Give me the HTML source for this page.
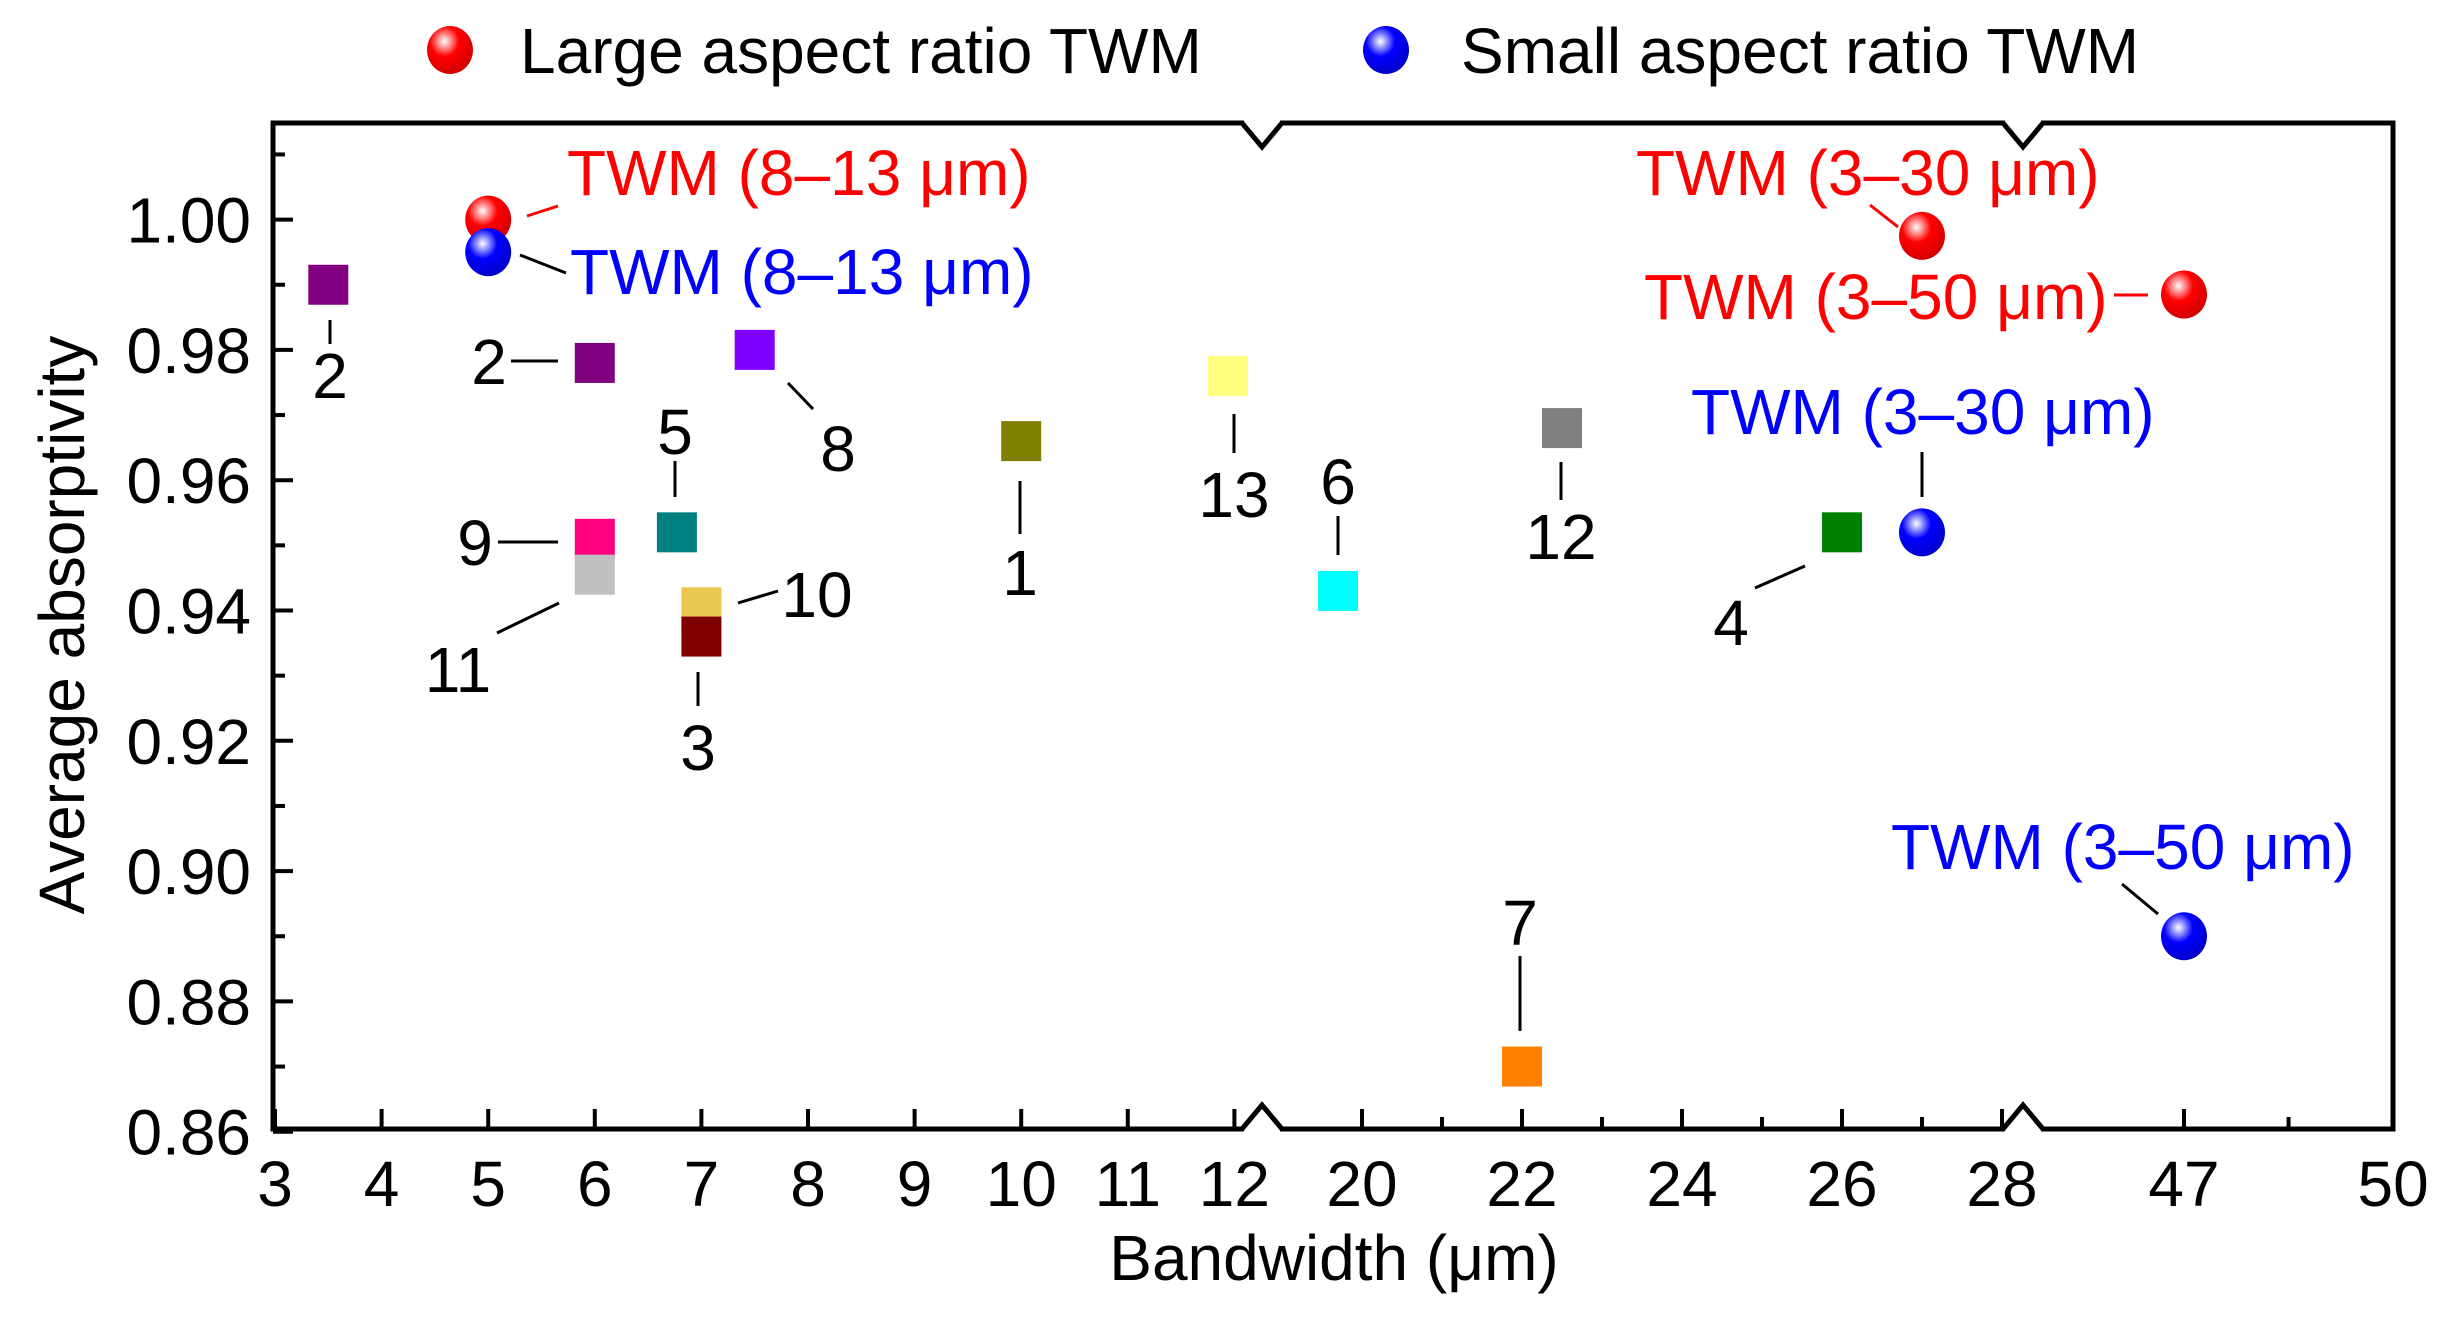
<!DOCTYPE html>
<html><head><meta charset="utf-8"><style>
html,body{margin:0;padding:0;background:#fff;}
svg text{font-family:"Liberation Sans",Arial,sans-serif;}
</style></head><body>
<svg id="chart" width="2449" height="1322" viewBox="0 0 2449 1322" xmlns="http://www.w3.org/2000/svg">
<defs>
<radialGradient id="gRed" cx="0.38" cy="0.32" r="0.7">
<stop offset="0" stop-color="#fff"/><stop offset="0.18" stop-color="#ff9a9a"/><stop offset="0.45" stop-color="#ff0000"/><stop offset="1" stop-color="#d00000"/></radialGradient>
<radialGradient id="gBlue" cx="0.38" cy="0.32" r="0.7">
<stop offset="0" stop-color="#fff"/><stop offset="0.18" stop-color="#9a9aff"/><stop offset="0.45" stop-color="#0000ff"/><stop offset="1" stop-color="#0000c8"/></radialGradient>
</defs>
<g id="plot"></g>
</svg>
<script>
// ---- data ----
const refLabels = ["2","2","8","5","9","11","10","3","1","13","6","12","7","4"];
const refX = [3.5,6,7.5,6.77,6,6,7,7,10,11.94,19.7,22.5,22,26];
const refY = [0.990,0.978,0.980,0.952,0.951,0.9455,0.9405,0.936,0.966,0.976,0.943,0.968,0.870,0.952];
const refColors = ["#800080","#800080","#8000ff","#008080","#ff0080","#c0c0c0","#ecc850","#800000","#808000","#ffff80","#00ffff","#808080","#ff8000","#008000"];
const largeX = [5,27,47];
const largeY = [1.000,0.9975,0.9885];
const smallX = [5,27,47];
const smallY = [0.995,0.952,0.890];
const yTicks = [0.86,0.88,0.90,0.92,0.94,0.96,0.98,1.00];
const yTickLabels = ["0.86","0.88","0.90","0.92","0.94","0.96","0.98","1.00"];
const xTicks = [3,4,5,6,7,8,9,10,11,12,20,22,24,26,28,47,50];
const xTickLabels = ["3","4","5","6","7","8","9","10","11","12","20","22","24","26","28","47","50"];
const xMinor = [21,23,25,27,48.5];

// ---- axes ----
const L=273, R=2393, T=123, B=1129, FS=64, DY=23;
function yS(v){return 219.6+(1.00-v)*6515;}
function xS(v){
  if(v<=15) return 275+106.6*(v-3);
  if(v<=35) return 1362+80*(v-20);
  return 2184+69.7*(v-47);
}
const NS="http://www.w3.org/2000/svg";
const g=document.getElementById('plot');
function el(tag,attrs,parent){const e=document.createElementNS(NS,tag);for(const k in attrs)e.setAttribute(k,attrs[k]);(parent||g).appendChild(e);return e;}
function txt(s,x,y,attrs){const e=el('text',Object.assign({x:x,y:y,'font-size':FS},attrs||{}));e.textContent=s;return e;}

const frame=el('path',{d:`M${L},${T} H${R} V${B} H${L} Z`,fill:'none',stroke:'#000','stroke-width':5});


[1262,2023].forEach(bx=>{
  el('rect',{x:bx-18,y:T-4,width:36,height:8,fill:'#fff'});
  el('rect',{x:bx-18,y:B-4,width:36,height:8,fill:'#fff'});
  const bt=el('path',{d:`M${bx-20},${T} L${bx},${T+24} L${bx+20},${T}`,fill:'none',stroke:'#000','stroke-width':5});
  
  
  const bb=el('path',{d:`M${bx-20},${B} L${bx},${B-24} L${bx+20},${B}`,fill:'none',stroke:'#000','stroke-width':5});
  
  
});
yTicks.forEach((v,i)=>{
  const y=yS(v);
  el('line',{x1:L,y1:y,x2:L+20,y2:y,stroke:'#000','stroke-width':4});
  const t=txt(yTickLabels[i],L-22,y+DY,{'text-anchor':'end'});
  
  
  if(v<1.0){const m=yS(v+0.01);el('line',{x1:L,y1:m,x2:L+12,y2:m,stroke:'#000','stroke-width':4});}
});
el('line',{x1:L,y1:yS(1.01),x2:L+12,y2:yS(1.01),stroke:'#000','stroke-width':4});
xTicks.forEach((v,i)=>{
  const x=xS(v);
  el('line',{x1:x,y1:B,x2:x,y2:B-20,stroke:'#000','stroke-width':4});
  const t=txt(xTickLabels[i],x,B+77,{'text-anchor':'middle'});
  
  
});
xMinor.forEach(v=>{const x=xS(v);el('line',{x1:x,y1:B,x2:x,y2:B-12,stroke:'#000','stroke-width':4});});
const xt=txt('Bandwidth (μm)',1334,1280,{'text-anchor':'middle'});


const yt=txt('Average absorptivity',0,0,{'text-anchor':'middle',transform:'translate(84,625) rotate(-90)'});



function sphere(cx,cy,grad,name){const c=el('ellipse',{cx:cx,cy:cy,rx:23,ry:24,fill:`url(#${grad})`});return c;}
sphere(450,50,'gRed','legend-marker-large');
const l1=txt('Large aspect ratio TWM',520,73,{});


sphere(1386,50,'gBlue','legend-marker-small');
const l2=txt('Small aspect ratio TWM',1461,73,{});



function line(x1,y1,x2,y2,col){el('line',{x1:x1,y1:y1,x2:x2,y2:y2,stroke:col||'#000','stroke-width':3});}
const numPos=[[330,375,330,320,330,344],[489,361,511,361,558,361],[838,448,788,383,813,409],[675,431,675,461,675,497],[475,542,498,542,558,542],[458,669,497,633,559,603],[817,594,738,603,778,591],[698,747,698,672,698,706],[1020,572,1020,481,1020,534],[1234,494,1234,414,1234,453],[1338,481,1338,516,1338,555],[1561,536,1561,462,1561,500],[1520,922,1520,956,1520,1031],[1731,622,1755,588,1805,566]];
refX.forEach((v,i)=>{
  const x=xS(v), y=yS(refY[i]);
  const r=el('rect',{x:x-20,y:y-20,width:40,height:40,fill:refColors[i]});
  
  
  const p=numPos[i];
  line(p[2],p[3],p[4],p[5]);
  const t=txt(refLabels[i],p[0],p[1]+DY,{'text-anchor':'middle'});
  
  
});
largeX.forEach((v,i)=>{sphere(xS(v),yS(largeY[i]),'gRed','large-aspect-point');});
smallX.forEach((v,i)=>{sphere(xS(v),yS(smallY[i]),'gBlue','small-aspect-point');});
const ann=[
 ['TWM (8–13 μm)','#f00',567,195,527,216,558,206],
 ['TWM (8–13 μm)','#00f',570,294,520,255,566,273],
 ['TWM (3–30 μm)','#f00',1636,195,1870,205,1898,227],
 ['TWM (3–50 μm)','#f00',1644,319,2114,295,2148,295],
 ['TWM (3–30 μm)','#00f',1691,434,1922,452,1922,497],
 ['TWM (3–50 μm)','#00f',1891,869,2122,884,2158,914]
];
ann.forEach(a=>{
  line(a[4],a[5],a[6],a[7],a[1]==='#f00'?'#f00':'#000');
  const t=txt(a[0],a[2],a[3],{fill:a[1]});
  
  
});
</script>
</body></html>
